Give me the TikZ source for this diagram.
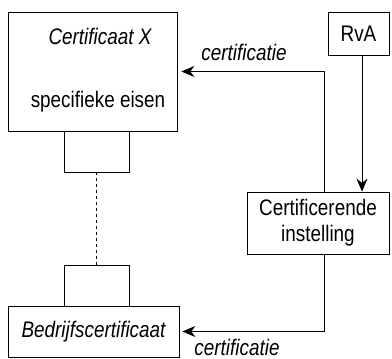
\documentclass[tikz,border=0pt]{standalone}
\usepackage{fontspec}
\setmainfont{Liberation Sans}[FakeStretch=0.84]
\usetikzlibrary{arrows.meta}

\begin{document}
\begin{tikzpicture}[x=1pt,y=-1pt,
	box/.style={draw,line width=0.8pt,inner sep=0pt},
	label/.style={font=\fontsize{22.5}{26}\selectfont,inner sep=0pt},
	conn/.style={line width=0.8pt,-{Stealth[length=13pt,width=11pt]}}]

\useasboundingbox (0,0) rectangle (392,359);

% boxes
\node[box,minimum width=169pt,minimum height=119pt] (certx) at (92.5,71.5) {};
\node[box,minimum width=65pt,minimum height=41pt] (tabtop) at (96.5,151.5) {};
\node[box,minimum width=65pt,minimum height=41pt] (tabbot) at (96.5,285.5) {};
\node[box,minimum width=171pt,minimum height=51pt] (bedrijf) at (93.5,331.5) {};
\node[box,minimum width=61pt,minimum height=43pt] (rva) at (358.5,33.5) {};
\node[box,minimum width=142pt,minimum height=62pt] (ci) at (318,223) {};

% texts
\node[label] (certxt) at (100,36) {\itshape Certificaat X};
\node[label] (eisen) at (98,102) {specifieke eisen};
\node[label] (bedrtxt) at (bedrijf.center) {\itshape Bedrijfscertificaat};
\node[label] (rvatxt) at (rva.center) {RvA};
\node[label,align=center] (citxt) at (ci.center) {Certificerende\\instelling};
\node[label] (certtop) at (244,52) {\itshape certificatie};
\node[label] (certbot) at (237,347) {\itshape certificatie};

% connectors
\coordinate (split) at (324,0);
\draw[dashed,line width=0.6pt] (tabtop.south) -- (tabbot.north);
\draw[conn] (rva.south -| 362,0) -- (ci.north -| 362,0);
\draw[conn,shorten >=4pt] (ci.north -| split) |- (certx.east);
\draw[conn,shorten >=3pt] (ci.south -| split) |- (bedrijf.east);

\end{tikzpicture}
\end{document}
